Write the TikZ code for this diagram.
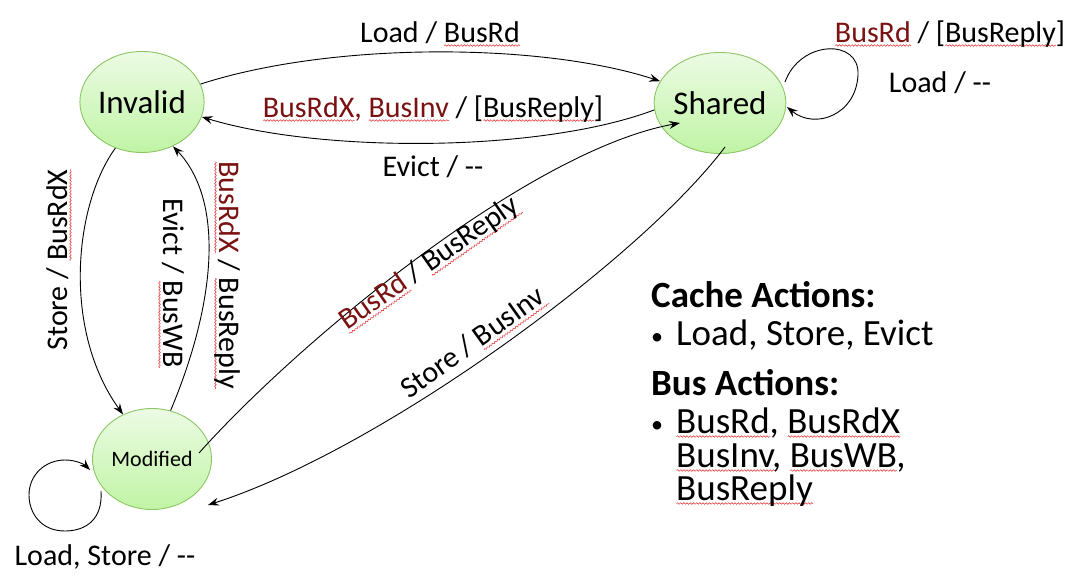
\documentclass[tikz,border=0pt]{standalone}
\usepackage{fontspec}
\setmainfont{Carlito}
\usetikzlibrary{arrows.meta,shapes.geometric,decorations.pathmorphing}
\definecolor{dr}{RGB}{122,18,18}
\definecolor{wv}{RGB}{230,40,40}
\definecolor{stTop}{RGB}{236,251,228}
\definecolor{stBot}{RGB}{192,244,165}
\definecolor{stBorder}{RGB}{140,198,100}
\newlength\bwl
\newcommand\bw[1]{\settowidth\bwl{#1}\leavevmode\rlap{\raisebox{-3.5pt}[0pt][0pt]{\tikz[baseline=0pt,x=1pt,y=1pt]\draw[wv,line width=0.5pt,decorate,decoration={snake,amplitude=0.8pt,segment length=3.2pt}] (0,0) -- (\bwl,0);}}#1}
\newcommand\dd{-\kern0pt-}
\newcommand\bul{\makebox[25pt][l]{\raisebox{1pt}{\fontsize{24}{24}\selectfont •}}}
\tikzset{
  st/.style={ellipse, draw=stBorder, line width=0.9pt, top color=stTop, bottom color=stBot,
     minimum width=119pt, minimum height=101pt, inner sep=0pt, font=\fontsize{33}{40}\selectfont},
  lbl/.style={inner sep=0pt, font=\fontsize{30}{36}\selectfont},
  leg/.style={inner sep=0pt, font=\fontsize{37}{44}\selectfont},
  legb/.style={inner sep=0pt, font=\fontsize{37}{44}\selectfont\bfseries},
  arr/.style={line width=0.9pt, -{Stealth[length=11pt,width=8pt,inset=4pt]}}
}
\begin{document}
\begin{tikzpicture}[x=1pt,y=-1pt]
\useasboundingbox[fill=white] (0,0) rectangle (1092,579);
% states
\node[st] (I) at (142,102) {Invalid};
\node[st] (S) at (720,103) {Shared};
\node[st, font=\fontsize{22}{26}\selectfont] (M) at (152,459) {Modified};
% transitions
\draw[arr] (I.17) .. controls (330,42) and (540,42) .. (S.160);
\draw[arr] (S.186) .. controls (540,153) and (320,153) .. (I.-14);
\draw[arr] (I.240) .. controls (74,205) and (62,330) .. (M.123);
\draw[arr] (M.69) .. controls (217,300) and (224,200) .. (I.-55);
\draw[arr] ([xshift=47pt,yshift=6pt]M.center) .. controls (300,340) and (530,150) .. ([xshift=-40pt,yshift=-20pt]S.center);
\draw[arr] ([xshift=5pt,yshift=-44pt]S.center) .. controls (640,260) and (380,450) .. ([xshift=56pt,yshift=-46pt]M.center);
% self loops
\draw[arr] ([xshift=65pt,yshift=21pt]S.center) .. controls (800,40) and (860,38) .. (858,75)
   .. controls (856,115) and (815,130) .. ([xshift=67pt,yshift=-4pt]S.center);
\draw[arr] ([xshift=-51pt,yshift=-32pt]M.center) .. controls (103,520) and (85,531) .. (65,531)
   .. controls (40,531) and (29,512) .. (29,495) .. controls (29,475) and (45,460) .. (65,460)
   .. controls (77,460) and (85,465) .. ([xshift=-62pt,yshift=-11pt]M.center);
% labels
\node[lbl, anchor=base] (t1) at (440,42) {Load / \bw{BusRd}};
\node[lbl, anchor=base] (t2) at (433,117) {\textcolor{dr}{\bw{BusRdX}, \bw{BusInv}} / [\bw{BusReply}]};
\node[lbl, anchor=base] (t3) at (433,176) {Evict / \dd};
\node[lbl, anchor=base, rotate=90] (t4) at (67,260) {Store / \bw{BusRdX}};
\node[lbl, anchor=base, rotate=-90] (t5) at (163,283) {Evict / \bw{BusWB}};
\node[lbl, anchor=base, rotate=-90] (t6) at (219,275) {\textcolor{dr}{\bw{BusRdX}} / \bw{BusReply}};
\node[lbl, anchor=base, rotate=35] (t7) at (434,270) {\textcolor{dr}{\bw{BusRd}} / \bw{BusReply}};
\node[lbl, anchor=base, rotate=35.6] (t8) at (478,350) {Store / \bw{BusInv}};
\node[lbl, anchor=base] (t9) at (950,42) {\textcolor{dr}{\bw{BusRd}} / [\bw{BusReply}]};
\node[lbl, anchor=base] (t10) at (940,92) {Load / \dd};
\node[lbl, anchor=base] (t11) at (105,565) {Load, Store / \dd};
% legend
\node[legb, anchor=base west] (g1) at (651,307) {Cache Actions:};
\node[leg, anchor=base west] (g2) at (651,345) {\bul Load, Store, Evict};
\node[legb, anchor=base west] (g3) at (651,395) {Bus Actions:};
\node[leg, anchor=base west] (g4) at (651,433) {\bul\bw{BusRd}, \bw{BusRdX}};
\node[leg, anchor=base west] (g5) at (676,467) {\bw{BusInv}, \bw{BusWB},};
\node[leg, anchor=base west] (g6) at (676,500) {\bw{BusReply}};
\end{tikzpicture}
\end{document}
